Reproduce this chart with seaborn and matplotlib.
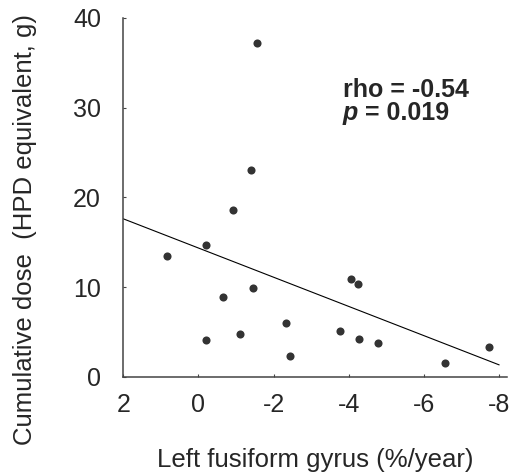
import matplotlib
matplotlib.use("Agg")
import matplotlib.pyplot as plt
import seaborn as sns
import numpy as np
import pandas as pd

# ---- data ----
fusiform_change = [-1.57, -1.41, -0.93, -0.20, 0.83, -0.66, -1.46, -0.21, -1.10,
                   -2.33, -2.43, -4.06, -4.24, -3.77, -4.26, -4.77, -6.57, -7.73]
cumulative_dose = [37.2, 23.0, 18.6, 14.65, 13.5, 8.92, 9.85, 4.09, 4.76,
                   5.99, 2.31, 10.86, 10.37, 5.09, 4.17, 3.72, 1.53, 3.35]
x_ticks = [2, 0, -2, -4, -6, -8]
y_ticks = [0, 10, 20, 30, 40]
stat_rho = "rho = -0.54"
stat_p = "0.019"

df = pd.DataFrame({"x": fusiform_change, "y": cumulative_dose})

sns.set_style("ticks")
plt.rcParams["font.family"] = ["Liberation Sans", "DejaVu Sans"]

fig = plt.figure(figsize=(5.2, 4.76), dpi=100)
ax = fig.add_axes([0.237, 0.2086, 0.7374, 0.7536])

# fit line spans the tick range 2 .. -8
ax.set_xlim(2, -8)
sns.regplot(data=df, x="x", y="y", ax=ax, ci=None, truncate=False,
            scatter_kws=dict(s=34, color="black", linewidths=0, zorder=3),
            line_kws=dict(color="black", lw=0.8))
ax.set_xlim(2, -8.2)
ax.set_ylim(0, 40)

ax.set_xticks(x_ticks)
ax.set_xticklabels([str(t) for t in x_ticks])
ax.set_yticks(y_ticks)
ax.set_yticklabels([str(t) for t in y_ticks])

sns.despine(ax=ax)
for s in ["left", "bottom"]:
    ax.spines[s].set_color("#444444")
    ax.spines[s].set_linewidth(1.1)

ax.tick_params(axis="x", direction="in", length=2.5, width=0.8, color="#444444",
               labelsize=18, pad=12)
ax.tick_params(axis="y", direction="in", length=2.5, width=0.8, color="#444444",
               labelsize=18, pad=16)

ax.set_xlabel("Left fusiform gyrus (%/year)", fontsize=18.5)
ax.xaxis.set_label_coords(0.5, -0.2517)
ax.xaxis.label.set_va("baseline")
ax.set_ylabel("Cumulative dose  (HPD equivalent, g)", fontsize=18.5)
ax.yaxis.set_label_coords(-0.225, 0.409)

ax.text(0.573, 0.779, stat_rho, transform=ax.transAxes, fontsize=18,
        fontweight="bold", ha="left", va="baseline")
ptxt = ax.text(0.573, 0.717, "p", transform=ax.transAxes, fontsize=18,
               fontweight="bold", style="italic", ha="left", va="baseline")
ax.annotate(" = " + stat_p, xy=(1, 0), xycoords=ptxt, fontsize=18,
            fontweight="bold", ha="left", va="bottom")

fig.savefig("out.png", dpi=100)
